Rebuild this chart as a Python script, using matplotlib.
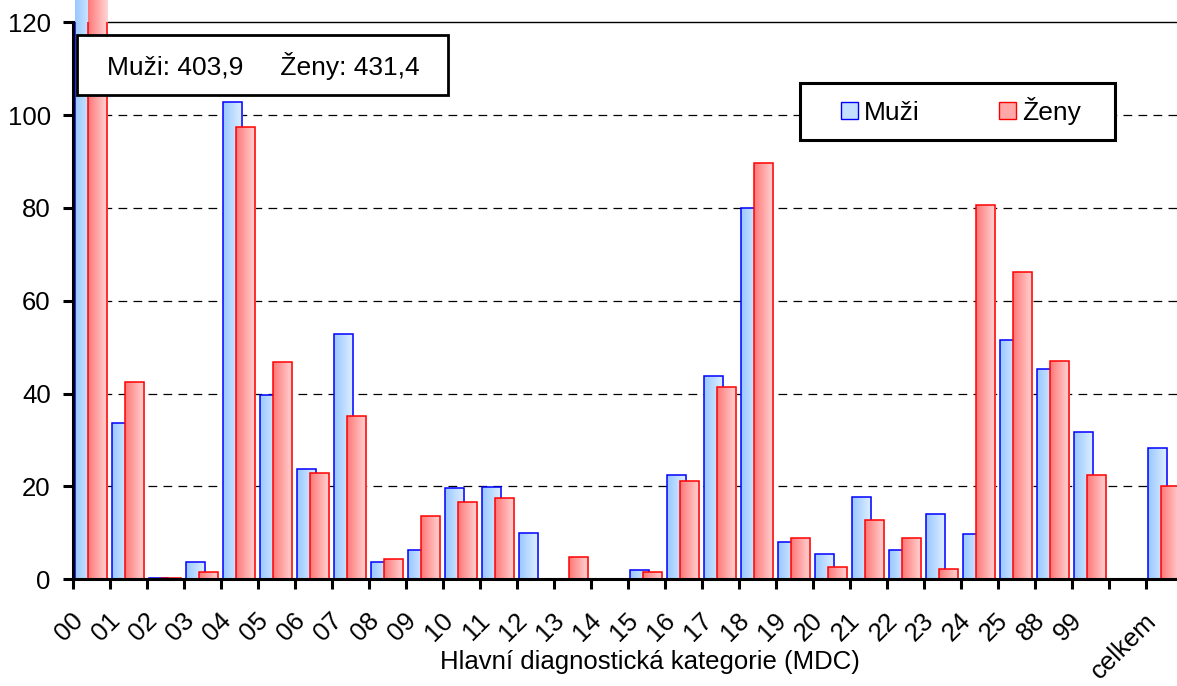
import numpy as np
import matplotlib.pyplot as plt
from matplotlib.colors import LinearSegmentedColormap
from matplotlib.patches import Patch, Rectangle
from matplotlib.transforms import ScaledTranslation

plt.rcParams["font.family"] = ["Liberation Sans", "DejaVu Sans"]

categories = ["00", "01", "02", "03", "04", "05", "06", "07", "08", "09",
              "10", "11", "12", "13", "14", "15", "16", "17", "18", "19",
              "20", "21", "22", "23", "24", "25", "88", "99", "", "celkem"]
muzi = [403.9, 33.6, 0.2, 3.8, 102.9, 39.6, 23.7, 52.8, 3.7, 6.4,
        19.6, 19.8, 10.0, 0.0, 0.0, 1.9, 22.4, 43.7, 79.9, 8.1,
        5.4, 17.8, 6.4, 14.0, 9.7, 51.5, 45.3, 31.7, 0.0, 28.2]
zeny = [431.4, 42.5, 0.2, 1.6, 97.4, 46.8, 22.8, 35.1, 4.3, 13.6,
        16.6, 17.5, 0.0, 4.7, 0.0, 1.5, 21.1, 41.5, 89.6, 8.8,
        2.6, 12.7, 8.8, 2.3, 80.6, 66.2, 47.0, 22.4, 0.0, 20.0]
total_text = "Muži: 403,9     Ženy: 431,4"
y_ticks = [0, 20, 40, 60, 80, 100, 120]

blue_cmap = LinearSegmentedColormap.from_list("muzi", ["#99C8FF", "#E2F0FF"])
red_cmap = LinearSegmentedColormap.from_list("zeny", ["#FF7878", "#FFD6D6"])

W, H = 1177, 686


def fig_box(x0, y0, x1, y1):
    # pixel box (top-left origin) -> figure fraction rectangle
    return (x0 / W, 1 - y1 / H), (x1 - x0) / W, (y1 - y0) / H


def gradient_bars(ax, bars, cmap, zorder):
    grad = np.linspace(0, 1, 64).reshape(1, -1)
    for bar in bars:
        x, y = bar.get_xy()
        w, h = bar.get_width(), bar.get_height()
        if h <= 0:
            continue
        im = ax.imshow(grad, cmap=cmap, extent=(x, x + w, y, y + h),
                       aspect="auto", interpolation="bilinear", zorder=zorder)
        im.set_clip_path(bar)


fig = plt.figure(figsize=(W / 100, H / 100), dpi=100)
ax = fig.add_axes([73 / W, 106.7 / H, 1110 / W, 557 / H])

x = np.arange(len(categories))
bw = 0.515
blue_bars = ax.bar(x + 0.312, muzi, width=bw, facecolor="none",
                   edgecolor="#0000FF", linewidth=1.1, zorder=2.5)
red_bars = ax.bar(x + 0.665, zeny, width=bw, facecolor="none",
                  edgecolor="#FF0000", linewidth=1.1, zorder=3.5)
gradient_bars(ax, blue_bars, blue_cmap, 2.4)
gradient_bars(ax, red_bars, red_cmap, 3.4)

ax.set_xlim(0, len(categories))
ax.set_ylim(0, 120)

for v in y_ticks[1:-1]:
    ax.axhline(v, color="black", linewidth=0.9, linestyle=(0, (7, 5)), zorder=1)
ax.axhline(120, color="black", linewidth=1.0, zorder=1, clip_on=False)

for s in ["top", "right"]:
    ax.spines[s].set_visible(False)
for s in ["left", "bottom"]:
    ax.spines[s].set_linewidth(2.2)
    ax.spines[s].set_zorder(5)

ax.set_yticks(y_ticks)
ax.set_yticklabels([str(v) for v in y_ticks], fontsize=18.5)
ax.tick_params(axis="y", direction="out", length=7, width=2.2, pad=9)

ax.set_xticks(np.arange(len(categories) + 1))
ax.set_xticklabels([])
ax.tick_params(axis="x", which="major", direction="out", length=7, width=2.2)
ax.set_xticks(x + 0.5, minor=True)
ax.set_xticklabels(categories, minor=True, fontsize=18.5, rotation=45,
                   ha="right", va="center", rotation_mode="anchor")
ax.tick_params(axis="x", which="minor", length=0, pad=27)
offset = ScaledTranslation(-12 / 100, 0, fig.dpi_scale_trans)
for lab in ax.xaxis.get_minorticklabels():
    lab.set_transform(lab.get_transform() + offset)

fig.text(650 / W, 1 - 662 / H, "Hlavní diagnostická kategorie (MDC)",
         fontsize=18.5, ha="center", va="center")

# box with the totals
xy, bw_, bh_ = fig_box(77, 35, 448, 95)
fig.patches.append(Rectangle(xy, bw_, bh_, transform=fig.transFigure, facecolor="white",
                             edgecolor="black", linewidth=2.0, zorder=10))
fig.text(263 / W, 1 - 66 / H, total_text, fontsize=19, ha="center", va="center", zorder=11)

# legend
xy, bw_, bh_ = fig_box(800, 83, 1115, 140)
fig.patches.append(Rectangle(xy, bw_, bh_, transform=fig.transFigure, facecolor="white",
                             edgecolor="black", linewidth=2.2, zorder=10))
handles = [Patch(facecolor="#C4E0FF", edgecolor="#0000FF", label="Muži"),
           Patch(facecolor="#FFA8A8", edgecolor="#FF0000", label="Ženy")]
leg = fig.legend(handles=handles, ncol=2, loc="center left",
                 bbox_to_anchor=(841 / W, 1 - 111 / H), frameon=False,
                 fontsize=19, borderpad=0, handlelength=0.64, handleheight=0.64,
                 handletextpad=0.23, columnspacing=3.0, borderaxespad=0)
leg.set_zorder(12)

fig.savefig("out.png", dpi=100)
